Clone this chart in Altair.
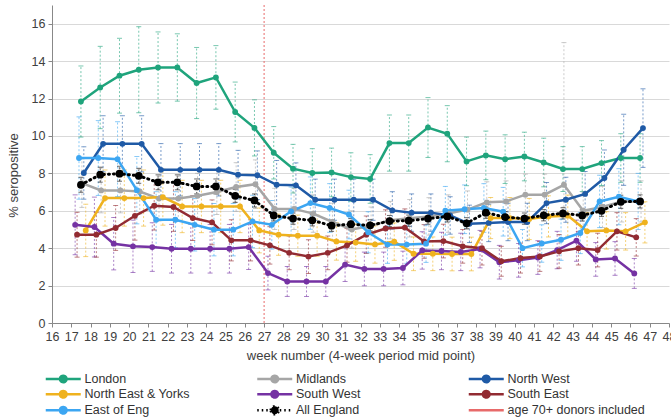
import altair as alt
import pandas as pd

# ---- data -------------------------------------------------------------
weeks = [17.5, 18.5, 19.5, 20.5, 21.5, 22.5, 23.5, 24.5, 25.5, 26.5,
         27.5, 28.5, 29.5, 30.5, 31.5, 32.5, 33.5, 34.5, 35.5, 36.5,
         37.5, 38.5, 39.5, 40.5, 41.5, 42.5, 43.5, 44.5, 45.5, 46.5]

names = ["London", "Midlands", "North West", "North East & Yorks",
         "South West", "South East", "East of Eng", "All England"]
age70_label = "age 70+ donors included"
age70_week = [27]

london = [11.84, 12.59, 13.22, 13.54, 13.66, 13.66, 12.83, 13.13, 11.28, 10.43,
          9.10, 8.25, 8.02, 8.05, 7.80, 7.70, 9.62, 9.62, 10.45, 10.12,
          8.64, 8.96, 8.76, 8.90, 8.58, 8.23, 8.23, 8.55, 8.82, 8.82]
midlands = [7.48, 7.09, 7.09, 7.03, 6.65, 6.65, 6.80, 7.00, 7.27, 7.42,
            6.10, 6.10, 5.85, 5.40, 5.00, 5.20, 5.50, 5.60, 5.70, 5.85,
            6.06, 6.45, 6.50, 6.86, 6.86, 7.39, 6.00, 6.20, 6.50, 6.50]
north_west = [8.02, 9.58, 9.58, 9.58, 8.19, 8.19, 8.19, 8.19, 7.93, 7.90,
              7.39, 7.36, 6.59, 6.59, 6.59, 6.59, 6.02, 5.90, 5.90, 5.75,
              5.30, 5.35, 5.40, 5.40, 6.41, 6.59, 6.90, 7.75, 9.26, 10.42]
ne_yorks = [4.95, 6.68, 6.68, 6.68, 6.73, 6.23, 6.23, 6.23, 6.23, 4.95,
            4.72, 4.67, 4.67, 4.36, 4.30, 4.20, 4.35, 3.70, 3.70, 3.69,
            3.69, 5.61, 5.61, 5.56, 5.70, 5.74, 4.90, 4.95, 4.90, 5.38]
south_west = [5.25, 5.13, 4.24, 4.10, 4.06, 3.97, 3.97, 3.97, 3.97, 4.06,
              2.67, 2.22, 2.22, 2.22, 3.12, 2.89, 2.89, 2.94, 3.88, 3.85,
              3.80, 3.95, 3.25, 3.35, 3.50, 3.90, 4.40, 3.40, 3.45, 2.65]
south_east = [4.72, 4.72, 5.08, 5.73, 6.27, 6.20, 5.61, 5.38, 4.42, 4.42,
              4.15, 3.75, 3.55, 3.75, 4.15, 4.72, 5.05, 5.10, 4.36, 4.38,
              4.10, 4.00, 3.30, 3.47, 3.56, 3.83, 4.00, 3.90, 4.90, 4.58]
east_eng = [8.82, 8.82, 8.76, 7.10, 5.52, 5.52, 5.25, 4.99, 4.99, 5.43,
            5.25, 5.97, 6.41, 6.15, 5.80, 4.85, 4.19, 4.19, 4.24, 6.00,
            6.08, 6.15, 5.95, 4.00, 4.25, 4.45, 4.81, 6.50, 6.75, 6.50]
england = [7.39, 7.93, 7.98, 7.87, 7.52, 7.52, 7.30, 7.30, 6.80, 6.55,
           5.75, 5.58, 5.49, 5.20, 5.28, 5.22, 5.45, 5.47, 5.58, 5.70,
           5.33, 5.90, 5.66, 5.58, 5.76, 5.86, 5.75, 6.00, 6.48, 6.50]

# 95% interval half-widths (lower side; upper side identical unless listed)
london_err = [1.9, 2.2, 2.0, 2.3, 1.9, 1.8, 1.9, 1.7, 1.6, 1.5,
              1.4, 1.3, 1.3, 1.3, 1.3, 1.3, 1.5, 1.5, 1.6, 1.5,
              1.3, 1.3, 1.3, 1.3, 1.3, 1.2, 1.2, 1.2, 1.3, 1.3]
midlands_err = [1.3, 1.2, 1.2, 1.2, 1.2, 1.2, 1.2, 1.2, 1.3, 1.3,
                1.1, 1.1, 1.0, 1.0, 1.0, 1.0, 1.0, 1.0, 1.0, 1.0,
                1.0, 1.1, 1.1, 1.1, 1.1, 1.2, 1.0, 1.1, 1.1, 1.1]
midlands_err_hi = [1.3, 1.2, 1.2, 1.2, 1.2, 1.2, 1.2, 1.2, 1.3, 1.3,
                   1.1, 1.1, 1.0, 1.0, 1.0, 1.0, 1.0, 1.0, 1.0, 1.0,
                   1.0, 1.1, 1.1, 1.1, 1.1, 7.6, 1.0, 1.1, 1.1, 1.1]
north_west_err = [1.4, 1.5, 1.5, 1.5, 1.4, 1.4, 1.4, 1.4, 1.3, 1.3,
                  1.3, 1.2, 1.1, 1.1, 1.1, 1.1, 1.0, 1.0, 1.0, 1.0,
                  1.0, 1.0, 1.0, 1.0, 1.1, 1.2, 1.2, 1.5, 1.9, 2.1]
ne_yorks_err = [1.4, 1.5, 1.5, 1.5, 1.5, 1.4, 1.4, 1.4, 1.4, 1.2,
                1.1, 1.1, 1.1, 1.0, 1.0, 1.0, 1.0, 0.9, 0.9, 0.9,
                0.9, 1.1, 1.1, 1.1, 1.1, 1.1, 1.0, 1.0, 1.0, 1.1]
south_west_err = [1.6, 1.6, 1.4, 1.4, 1.3, 1.3, 1.3, 1.3, 1.3, 1.2,
                  0.9, 0.8, 0.8, 0.8, 0.9, 0.9, 0.9, 0.9, 1.0, 1.0,
                  1.0, 1.0, 0.9, 0.9, 0.9, 1.0, 1.1, 0.9, 0.9, 0.8]
south_east_err = [1.2, 1.2, 1.2, 1.3, 1.3, 1.3, 1.2, 1.2, 1.1, 1.1,
                  1.0, 0.9, 0.9, 0.9, 0.9, 1.0, 1.0, 1.0, 0.9, 0.9,
                  0.9, 0.9, 0.8, 0.8, 0.8, 0.9, 0.9, 0.9, 1.0, 1.0]
east_eng_err = [2.2, 2.0, 2.0, 1.8, 1.5, 1.5, 1.4, 1.4, 1.4, 1.4,
                1.3, 1.3, 1.4, 1.3, 1.3, 1.1, 1.0, 1.0, 1.0, 1.3,
                1.3, 1.3, 1.3, 1.0, 1.0, 1.1, 1.1, 1.4, 1.5, 1.5]
england_err = [0.4, 0.4, 0.4, 0.4, 0.4, 0.4, 0.4, 0.4, 0.35, 0.35,
               0.3, 0.3, 0.3, 0.3, 0.3, 0.3, 0.3, 0.3, 0.3, 0.3,
               0.3, 0.3, 0.3, 0.3, 0.3, 0.3, 0.3, 0.3, 0.35, 0.35]

values = {"London": london, "Midlands": midlands, "North West": north_west,
          "North East & Yorks": ne_yorks, "South West": south_west,
          "South East": south_east, "East of Eng": east_eng,
          "All England": england}
errors_lo = {"London": london_err, "Midlands": midlands_err,
             "North West": north_west_err, "North East & Yorks": ne_yorks_err,
             "South West": south_west_err, "South East": south_east_err,
             "East of Eng": east_eng_err, "All England": england_err}
errors_hi = dict(errors_lo, Midlands=midlands_err_hi)

# ---- styling ----------------------------------------------------------
colors = {"London": "#1fa47c", "Midlands": "#a6a6a6", "North West": "#1f5aa6",
          "North East & Yorks": "#efb21e", "South West": "#7532a3",
          "South East": "#922b32", "East of Eng": "#3ca6f2",
          "All England": "#000000"}
age70_color = "#e86a6a"
# small horizontal shift per series so the interval bars do not sit on top of each other
shift = {"London": 0.0, "Midlands": 0.05, "North West": 0.15,
         "North East & Yorks": 0.25, "South West": -0.3, "South East": -0.2,
         "East of Eng": -0.1, "All England": 0.0}

rows = []
for name in names:
    for i, w in enumerate(weeks):
        v = values[name][i]
        rows.append({"series": name, "x": w + shift[name], "value": v,
                     "lo": v - errors_lo[name][i], "hi": v + errors_hi[name][i]})
df = pd.DataFrame(rows)

FONT = "Liberation Sans"
x_scale = alt.Scale(domain=[16, 48], nice=False, zero=False)
y_scale = alt.Scale(domain=[0, 17], nice=False, zero=True)
x_axis = alt.Axis(values=list(range(16, 49)), title="week number (4-week period mid point)",
                  grid=False, labelOverlap=False, labelFlush=False, tickSize=4, labelPadding=3,
                  titlePadding=7, labelFontSize=12.5, titleFontSize=13,
                  labelColor="#404040", titleColor="#404040", titleFontWeight="normal",
                  domainColor="#888888", tickColor="#888888", labelFont=FONT, titleFont=FONT)
y_axis = alt.Axis(values=list(range(0, 17, 2)), title="% seropositive", grid=True,
                  gridColor="#d9d9d9", tickSize=4, labelPadding=3, labelFontSize=12.5,
                  titleFontSize=13, labelColor="#404040", titleColor="#404040",
                  titleFontWeight="normal", domainColor="#888888", tickColor="#888888",
                  titleX=-32, titleY=170, labelFont=FONT, titleFont=FONT)

X = alt.X("x:Q", scale=x_scale, axis=x_axis)


def Y(field):
    return alt.Y(f"{field}:Q", scale=y_scale, axis=y_axis)


color_enc = alt.Color("series:N", scale=alt.Scale(domain=names, range=[colors[n] for n in names]),
                      legend=None)

base = alt.Chart(df)
regions = base.transform_filter(alt.datum.series != "All England")
nation = base.transform_filter(alt.datum.series == "All England")

# vertical marker for the week older donors were first included
age70_rule = alt.Chart(pd.DataFrame({"x": age70_week})).mark_rule(
    color=age70_color, strokeDash=[2, 2], strokeWidth=1
).encode(x=X)

err_bars = base.mark_rule(strokeDash=[2, 2], strokeWidth=1, opacity=0.6).encode(
    x=X, y=Y("lo"), y2="hi:Q", color=color_enc)
cap_lo = base.mark_tick(orient="horizontal", size=5, thickness=1, opacity=0.6).encode(
    x=X, y=Y("lo"), color=color_enc)
cap_hi = base.mark_tick(orient="horizontal", size=5, thickness=1, opacity=0.6).encode(
    x=X, y=Y("hi"), color=color_enc)

region_lines = regions.mark_line(strokeWidth=2.5).encode(x=X, y=Y("value"), color=color_enc)
region_points = regions.mark_circle(size=34, opacity=1).encode(x=X, y=Y("value"), color=color_enc)
nation_line = nation.mark_line(strokeWidth=3, strokeDash=[1, 4], strokeCap="round",
                               color="#000000").encode(x=X, y=Y("value"))
nation_points = nation.mark_circle(size=60, opacity=1, color="#000000").encode(x=X, y=Y("value"))

# ---- legend (three columns, filled column by column) --------------------
legend_order = ["London", "North East & Yorks", "East of Eng",
                "Midlands", "South West", "All England",
                "North West", "South East", age70_label]
legend_colors = [colors.get(n, age70_color) for n in legend_order]
line_dot = "M-1.375,0L7.375,0M2.175,0A0.825,0.825 0 1,1 3.825,0A0.825,0.825 0 1,1 2.175,0Z"
line_big_dot = "M-1.375,0L7.375,0M2.0,0A1.0,1.0 0 1,1 4.0,0A1.0,1.0 0 1,1 2.0,0Z"
line_only = "M-1.375,0L7.375,0"
legend_shapes = [line_big_dot if n == "All England" else line_only if n == age70_label else line_dot
                 for n in legend_order]
legend_dashes = [[1.5, 3] if n == "All England" else [1, 0] for n in legend_order]

leg = alt.Legend(title=None, orient="none", legendX=-7, legendY=367, columns=3,
                 gridAlign="all", columnPadding=29.5, rowPadding=-3.5, symbolSize=64,
                 labelOffset=27, labelFontSize=12.5, labelFont=FONT, labelColor="#333333",
                 padding=0, symbolStrokeWidth=2.5, symbolOpacity=1, labelLimit=300)

legend_layer = alt.Chart(pd.DataFrame({"series": legend_order})).transform_filter(
    "false"
).mark_point(filled=True, strokeWidth=2.5, opacity=1).encode(
    fill=alt.Fill("series:N", scale=alt.Scale(domain=legend_order, range=legend_colors), legend=leg),
    stroke=alt.Stroke("series:N", scale=alt.Scale(domain=legend_order, range=legend_colors), legend=leg),
    shape=alt.Shape("series:N", scale=alt.Scale(domain=legend_order, range=legend_shapes), legend=leg),
    strokeDash=alt.StrokeDash("series:N", scale=alt.Scale(domain=legend_order, range=legend_dashes), legend=leg),
)

chart = alt.layer(
    age70_rule, err_bars, cap_lo, cap_hi, region_lines, region_points,
    nation_line, nation_points, legend_layer
).properties(
    width=617, height=318,
    autosize=alt.AutoSizeParams(type="none"),
    padding={"left": 52, "top": 5, "right": 2, "bottom": 95},
).configure(font=FONT).configure_view(stroke=None)

chart.save("out.html", embed_options={"renderer": "svg", "actions": False})
